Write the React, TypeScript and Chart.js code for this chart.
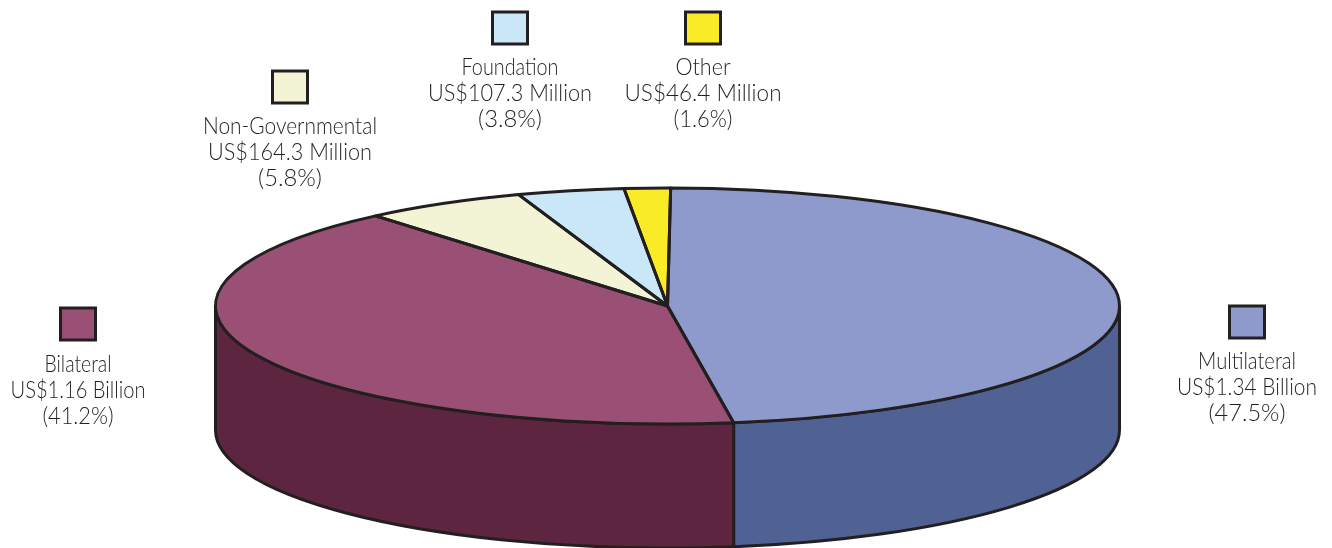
import React, { useEffect, useRef } from "react";
import { Chart, registerables } from "chart.js";

Chart.register(...registerables);

const categories = ["Multilateral", "Bilateral", "Non-Governmental", "Foundation", "Other"];
const amountsUsdMillions = [1340, 1160, 164.3, 107.3, 46.4];
const amountLabels = ["US$1.34 Billion", "US$1.16 Billion", "US$164.3 Million", "US$107.3 Million", "US$46.4 Million"];
const percentLabels = ["(47.5%)", "(41.2%)", "(5.8%)", "(3.8%)", "(1.6%)"];
const topColors = ["#8E9ACC", "#9A5074", "#F3F4D6", "#CAE7F8", "#F9EC26"];
const wallColors = ["#506193", "#5E2541", "#F3F4D6", "#CAE7F8", "#F9EC26"];

const W = 1332, H = 548;
const CX = 667.5, CY = 306, RX = 452, RY = 118, DEPTH = 124;
const INK = "#231F20";
const legendPos = [
  { x: 1247, top: 304.5, base: 369, w: [98, 140, 77] },
  { x: 78, top: 306.5, base: 372, w: [67, 135, 71] },
  { x: 290, top: 69.5, base: 134, w: [174, 164, 64] },
  { x: 510, top: 10.5, base: 75, w: [97, 164, 64] },
  { x: 703, top: 10.5, base: 75, w: [55, 157, 59] },
];

const piePlugin = {
  id: "pie3d",
  beforeDatasetsDraw(chart: any) {
    const ctx = chart.ctx;
    const arcs = chart.getDatasetMeta(0).data;
    ctx.save();
    ctx.lineWidth = 3;
    ctx.strokeStyle = INK;
    ctx.lineJoin = "round";
    arcs.forEach((arc: any, i: number) => {
      const TAU = Math.PI * 2;
      let a = arc.startAngle, b = arc.endAngle;
      while (a < -Math.PI / 2) { a += TAU; b += TAU; }
      if (a > TAU) { a -= TAU; b -= TAU; }
      const s = Math.max(a, 0), e = Math.min(b, Math.PI);
      if (e <= s) return;
      ctx.beginPath();
      ctx.ellipse(CX, CY, RX, RY, 0, s, e);
      ctx.lineTo(CX + RX * Math.cos(e), CY + RY * Math.sin(e) + DEPTH);
      ctx.ellipse(CX, CY + DEPTH, RX, RY, 0, e, s, true);
      ctx.closePath();
      ctx.fillStyle = wallColors[i];
      ctx.fill();
      ctx.stroke();
    });
    ctx.restore();
  },
  beforeDatasetDraw(chart: any) {
    const ctx = chart.ctx;
    const arc = chart.getDatasetMeta(0).data[0];
    const r = arc.outerRadius;
    ctx.save();
    ctx.translate(CX, CY);
    ctx.scale(RX / r, RY / r);
    ctx.translate(-arc.x, -arc.y);
  },
  afterDatasetDraw(chart: any) {
    const ctx = chart.ctx;
    ctx.restore();
    const arcs = chart.getDatasetMeta(0).data;
    ctx.save();
    ctx.lineWidth = 3;
    ctx.strokeStyle = INK;
    ctx.lineJoin = "round";
    arcs.forEach((arc: any) => {
      ctx.beginPath();
      ctx.moveTo(CX, CY);
      ctx.ellipse(CX, CY, RX, RY, 0, arc.startAngle, arc.endAngle);
      ctx.closePath();
      ctx.stroke();
    });
    ctx.restore();
  },
  afterDraw(chart: any) {
    const ctx = chart.ctx;
    ctx.save();
    categories.forEach((name, i) => {
      const p = legendPos[i];
      ctx.fillStyle = topColors[i];
      ctx.strokeStyle = INK;
      ctx.lineWidth = 3;
      ctx.fillRect(p.x - 17.5, p.top + 1.5, 35, 32);
      ctx.strokeRect(p.x - 17.5, p.top + 1.5, 35, 32);
      ctx.fillStyle = INK;
      ctx.textAlign = "center";
      ctx.textBaseline = "alphabetic";
      ctx.font = "300 24px Lato";
      ctx.fillText(name, p.x, p.base, p.w[0]);
      ctx.fillText(amountLabels[i], p.x, p.base + 26, p.w[1]);
      ctx.fillText(percentLabels[i], p.x, p.base + 52, p.w[2]);
    });
    ctx.restore();
  },
};

export default function App() {
  const ref = useRef<HTMLCanvasElement>(null);
  useEffect(() => {
    document.body.style.margin = "0";
    document.body.style.background = "#fff";
    const chart = new Chart(ref.current!, {
      type: "pie",
      data: {
        labels: categories,
        datasets: [{ data: amountsUsdMillions, backgroundColor: topColors, borderWidth: 0 }],
      },
      options: {
        responsive: false,
        animation: false,
        rotation: 0.4,
        events: [],
        plugins: { legend: { display: false }, tooltip: { enabled: false } },
      },
      plugins: [piePlugin],
    } as any);
    return () => chart.destroy();
  }, []);
  return <canvas ref={ref} width={W} height={H} style={{ display: "block" }} />;
}
